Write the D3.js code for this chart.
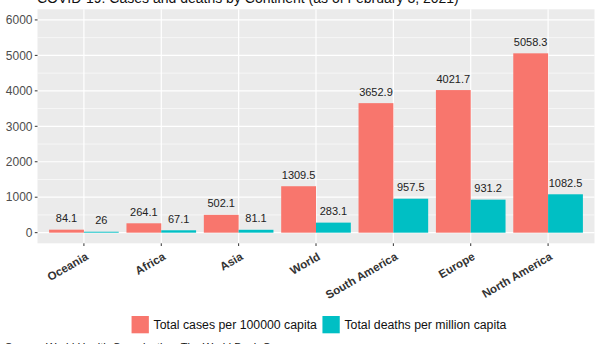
<!DOCTYPE html>
<html><head><meta charset="utf-8">
<script src="https://cdn.jsdelivr.net/npm/d3@7"></script>
<style>body{margin:0;background:#fff}svg{display:block;font-family:Arial,"Liberation Sans",sans-serif}</style>
</head><body><svg id="c" width="600" height="344"></svg>
<script>
const categories = ["Oceania","Africa","Asia","World","South America","Europe","North America"];
const seriesNames = ["Total cases per 100000 capita","Total deaths per million capita"];
const cases = [84.1, 264.1, 502.1, 1309.5, 3652.9, 4021.7, 5058.3];
const deaths = [26, 67.1, 81.1, 283.1, 957.5, 931.2, 1082.5];
const caseLabels = ["84.1","264.1","502.1","1309.5","3652.9","4021.7","5058.3"];
const deathLabels = ["26","67.1","81.1","283.1","957.5","931.2","1082.5"];
const yTicks = [0,1000,2000,3000,4000,5000,6000];
const yMinor = [500,1500,2500,3500,4500,5500];
const colors = ["#F8766D","#00BFC4"];
const titleText = "COVID-19: Cases and deaths by Continent (as of February 3, 2021)";
const captionText = "Source: World Health Organization; The World Bank Group";

const svg = d3.select("#c");
const L = 37.5, R = 594.5, T = 9.3, B = 243.3;
const x = d3.scaleBand().domain(categories).range([L,R]).paddingInner(0.1).paddingOuter(0.15);
const xs = d3.scaleBand().domain([0,1]).range([0,x.bandwidth()]);
const y = d3.scaleLinear().domain([-300,6300]).range([B,T]);

svg.append("rect").attr("x",L).attr("y",T).attr("width",R-L).attr("height",B-T).attr("fill","#EBEBEB");
const g = svg.append("g");
g.selectAll(".mn").data(yMinor).join("line").attr("x1",L).attr("x2",R)
 .attr("y1",d=>y(d)).attr("y2",d=>y(d)).attr("stroke","#fff").attr("stroke-width",0.6);
g.selectAll(".mj").data(yTicks).join("line").attr("x1",L).attr("x2",R)
 .attr("y1",d=>y(d)).attr("y2",d=>y(d)).attr("stroke","#fff").attr("stroke-width",1.2);
g.selectAll(".vx").data(categories).join("line").attr("y1",T).attr("y2",B)
 .attr("x1",d=>x(d)+x.bandwidth()/2).attr("x2",d=>x(d)+x.bandwidth()/2).attr("stroke","#fff").attr("stroke-width",1.2);

const series = [cases, deaths], labels=[caseLabels, deathLabels];
series.forEach((vals,si)=>{
  svg.append("g").selectAll("rect").data(vals).join("rect")
    .attr("x",(d,i)=>x(categories[i])+xs(si)).attr("width",xs.bandwidth())
    .attr("y",d=>y(d)).attr("height",d=>y(0)-y(d)).attr("fill",colors[si]);
  svg.append("g").selectAll("text").data(vals).join("text")
    .attr("x",(d,i)=>x(categories[i])+xs(si)+xs.bandwidth()/2)
    .attr("y",d=>y(d)-7.5).attr("text-anchor","middle")
    .attr("font-size",11).attr("fill","#222").text((d,i)=>labels[si][i]);
});

// y axis
const ya = svg.append("g");
yTicks.forEach(t=>{
  ya.append("line").attr("x1",L-2.7).attr("x2",L).attr("y1",y(t)).attr("y2",y(t)).attr("stroke","#333").attr("stroke-width",1);
  ya.append("text").attr("x",L-5).attr("y",y(t)).attr("dy","0.35em").attr("text-anchor","end")
    .attr("font-size",12).attr("fill","#4D4D4D").text(t);
});
// x axis
const xa = svg.append("g");
categories.forEach(c=>{
  const cx = x(c)+x.bandwidth()/2;
  xa.append("line").attr("x1",cx).attr("x2",cx).attr("y1",B).attr("y2",B+2.7).attr("stroke","#333");
  xa.append("text").attr("transform",`translate(${cx+1},${B+8.5}) rotate(-30)`)
    .attr("dy","0.71em").attr("text-anchor","end").attr("font-size",11.5).attr("font-weight","bold")
    .attr("fill","#333").text(c);
});

// title & caption (partially cut off, as in the reference)
svg.append("text").attr("x",37).attr("y",2.5).attr("font-size",14).attr("fill","#111").text(titleText);
svg.append("text").attr("x",5).attr("y",351).attr("font-size",11).attr("fill","#111").text(captionText);

// legend
const lg = svg.append("g");
let cur = 0;
seriesNames.forEach((n,i)=>{
  const it = lg.append("g");
  it.append("rect").attr("x",0).attr("y",0).attr("width",17.3).attr("height",17.3).attr("fill",colors[i]);
  const t = it.append("text").attr("x",22).attr("y",8.65).attr("dy","0.35em").attr("font-size",12.3).attr("fill","#111").text(n);
  const w = 22 + t.node().getComputedTextLength();
  it.attr("transform",`translate(${cur},316)`);
  cur += w + 5.5;
});
const total = cur - 5.5;
lg.attr("transform",`translate(${319 - total/2},0)`);
</script></body></html>
